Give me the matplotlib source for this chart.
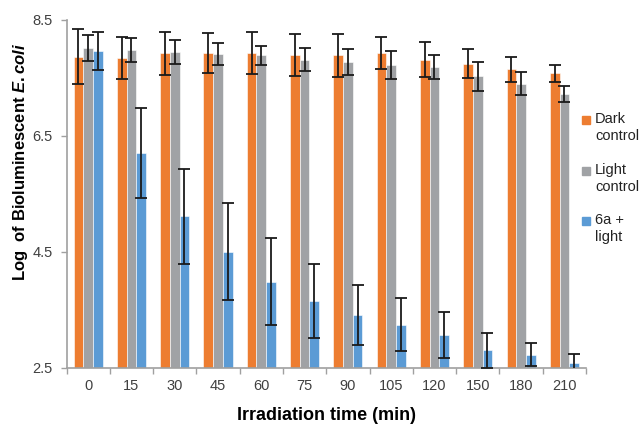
import matplotlib
matplotlib.use("Agg")
import matplotlib.pyplot as plt
import numpy as np
from matplotlib.patches import Rectangle

plt.rcParams['font.family'] = ['Liberation Sans', 'DejaVu Sans']
plt.rcParams['mathtext.fontset'] = 'custom'
plt.rcParams['mathtext.it'] = 'Liberation Sans:italic:bold'
plt.rcParams['mathtext.rm'] = 'Liberation Sans:bold'

categories = ['0', '15', '30', '45', '60', '75', '90', '105', '120', '150', '180', '210']
series_names = ['Dark\ncontrol', 'Light\ncontrol', '6a +\nlight']
dark = [7.86, 7.83, 7.92, 7.92, 7.92, 7.89, 7.88, 7.92, 7.81, 7.74, 7.64, 7.57]
dark_err = [0.47, 0.36, 0.37, 0.35, 0.36, 0.36, 0.37, 0.28, 0.30, 0.25, 0.21, 0.14]
light = [8.01, 7.97, 7.94, 7.91, 7.88, 7.81, 7.77, 7.71, 7.68, 7.52, 7.39, 7.22]
light_err = [0.22, 0.21, 0.20, 0.19, 0.16, 0.20, 0.22, 0.24, 0.20, 0.25, 0.20, 0.14]
treated = [7.96, 6.20, 5.11, 4.50, 3.98, 3.65, 3.41, 3.24, 3.06, 2.80, 2.72, 2.57]
treated_err = [0.33, 0.77, 0.82, 0.84, 0.75, 0.64, 0.52, 0.46, 0.39, 0.30, 0.20, 0.17]
colors = ['#ED7D31', '#A0A2A5', '#5B9BD5']
yticks = [2.5, 4.5, 6.5, 8.5]

fig = plt.figure(figsize=(6.42, 4.25), dpi=100)
ax = fig.add_axes([66.5/642, 1-367.5/425, (586-66.5)/642, (367.5-19.5)/425])

x = np.arange(len(categories))
w = 0.224
vals = [dark, light, treated]
errs = [dark_err, light_err, treated_err]
for i, (v, e, c) in enumerate(zip(vals, errs, colors)):
    ax.bar(x + (i-1)*w, v, width=w, color=c, edgecolor='white', linewidth=0.4,
           bottom=0, zorder=2)
    ax.errorbar(x + (i-1)*w, v, yerr=e, fmt='none', ecolor='#1a1a1a',
                elinewidth=1.3, capsize=4, capthick=1.3, zorder=3, clip_on=True)

ax.set_ylim(2.5, 8.5)
ax.set_xlim(-0.5, len(categories)-0.5)
ax.set_yticks(yticks)
ax.set_yticklabels([f'{t:.1f}' for t in yticks])
ax.set_xticks(x)
ax.set_xticklabels(categories)
ax.set_xticks(np.arange(len(categories)+1)-0.5, minor=True)
ax.tick_params(axis='x', which='major', length=0, pad=8, labelsize=10.5, labelcolor='#404040')
ax.tick_params(axis='x', which='minor', length=4, color='#A0A0A0', width=1)
ax.tick_params(axis='y', length=4, color='#A0A0A0', width=1, pad=6, labelsize=10.5, labelcolor='#404040')
for s in ['top', 'right']:
    ax.spines[s].set_visible(False)
for s in ['left', 'bottom']:
    ax.spines[s].set_color('#A0A0A0')
    ax.spines[s].set_linewidth(1.2)

ax.set_xlabel('Irradiation time (min)', fontsize=13, fontweight='bold', labelpad=10)
fig.text(21/642, 1-162/425, r'Log  of Bioluminescent $\mathit{E.coli}$', rotation=90,
         fontsize=12, fontweight='bold', ha='center', va='center')

# legend
leg_y = [120, 171, 221]
for name, c, yy in zip(series_names, colors, leg_y):
    fig.patches.append(Rectangle((582/642, 1-(yy+4)/425), 8/642, 8/425,
                                 transform=fig.transFigure, color=c))
    fig.text(595/642, 1-(yy-8)/425, name, fontsize=10.5, ha='left', va='top',
             linespacing=1.3, color='#222222')

fig.savefig('out.png', dpi=100)
